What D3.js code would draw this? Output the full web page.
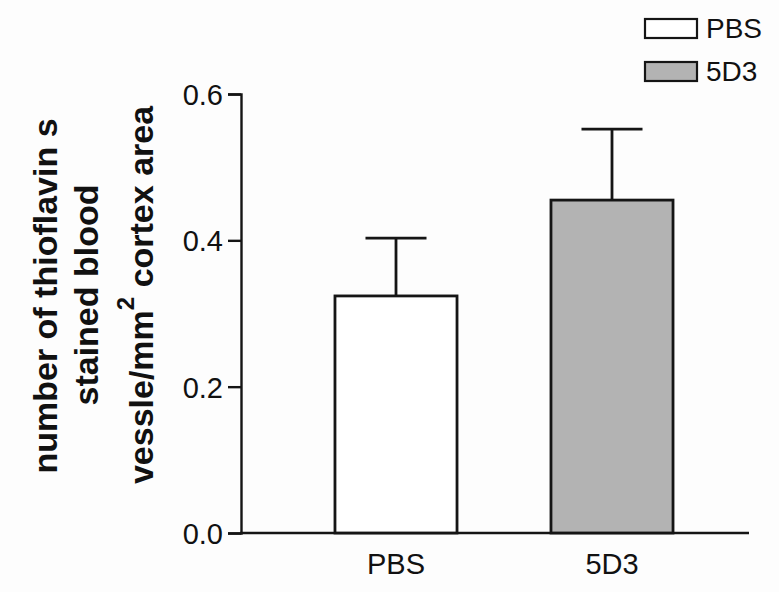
<!DOCTYPE html>
<html>
<head>
<meta charset="utf-8">
<script src="https://cdn.jsdelivr.net/npm/d3@7"></script>
<style>
  body { margin: 0; background: #fdfdfd; }
  text { font-family: "Liberation Sans", Arial, sans-serif; fill: #111; }
</style>
</head>
<body>
<div id="page"></div>
<script>
var groups = ['PBS', '5D3'];
var means = [0.324, 0.455];
var sems = [0.079, 0.097];
var fills = ['#ffffff', '#b3b3b3'];
var yTicks = [0.0, 0.2, 0.4, 0.6];

var width = 779,
    height = 592;

var svg = d3.select("#page").append("svg")
    .attr("width", width)
    .attr("height", height);

var x = d3.scaleBand()
    .domain(groups)
    .range([288, 720])
    .paddingInner(0.435)
    .paddingOuter(0.2175);

var y = d3.scaleLinear()
    .domain([0, 0.6])
    .range([533, 94]);

var ink = '#151515';

// y axis
var yAxis = svg.append("g")
    .attr("transform", "translate(241,0)")
    .call(d3.axisLeft(y).tickValues(yTicks).tickFormat(d3.format(".1f")).tickSize(13).tickPadding(5));
yAxis.select(".domain").attr("stroke", ink).attr("stroke-width", 2.4);
yAxis.selectAll(".tick line").attr("stroke", ink).attr("stroke-width", 2.4);
yAxis.selectAll(".tick text")
    .attr("fill", ink)
    .style("font-size", "29px")
    .attr("dy", "0.36em");

// x axis line
svg.append("line")
    .attr("x1", 240).attr("x2", 749)
    .attr("y1", y(0)).attr("y2", y(0))
    .attr("stroke", ink).attr("stroke-width", 2.4);

svg.selectAll(".xlabel")
    .data(groups)
  .enter().append("text")
    .attr("class", "xlabel")
    .attr("x", function(d) { return x(d) + x.bandwidth() / 2; })
    .attr("y", 574)
    .attr("text-anchor", "middle")
    .style("font-size", "29px")
    .text(function(d) { return d; });

// error bars
var err = svg.append("g");
groups.forEach(function(g, i) {
  var cx = x(g) + x.bandwidth() / 2,
      half = x.bandwidth() / 4;
  err.append("line")
      .attr("x1", cx).attr("x2", cx)
      .attr("y1", y(means[i])).attr("y2", y(means[i] + sems[i]))
      .attr("stroke", ink).attr("stroke-width", 2.8);
  err.append("line")
      .attr("x1", cx - half).attr("x2", cx + half)
      .attr("y1", y(means[i] + sems[i])).attr("y2", y(means[i] + sems[i]))
      .attr("stroke", ink).attr("stroke-width", 2.8);
});

// bars
svg.selectAll(".bar")
    .data(groups)
  .enter().append("rect")
    .attr("class", "bar")
    .attr("x", function(d) { return x(d); })
    .attr("y", function(d, i) { return y(means[i]); })
    .attr("width", x.bandwidth())
    .attr("height", function(d, i) { return y(0) - y(means[i]); })
    .attr("fill", function(d, i) { return fills[i]; })
    .attr("stroke", ink)
    .attr("stroke-width", 2.8);

// legend
var legend = svg.append("g");
var legendY = [19, 62];
groups.forEach(function(g, i) {
  legend.append("rect")
      .attr("x", 645).attr("y", legendY[i])
      .attr("width", 52).attr("height", 19)
      .attr("fill", fills[i])
      .attr("stroke", ink).attr("stroke-width", 2.2);
  legend.append("text")
      .attr("x", 706).attr("y", legendY[i] + 19)
      .style("font-size", "28px")
      .text(g);
});

// y label
var ylab = svg.append("g");
ylab.append("text")
    .attr("transform", "translate(57,296) rotate(-90)")
    .attr("text-anchor", "middle")
    .style("font-size", "34px").style("font-weight", "bold")
    .text("number of thioflavin s");
ylab.append("text")
    .attr("transform", "translate(98,295) rotate(-90)")
    .attr("text-anchor", "middle")
    .style("font-size", "34px").style("font-weight", "bold")
    .text("stained blood");
var l3 = ylab.append("text")
    .attr("transform", "translate(153,295) rotate(-90)")
    .attr("text-anchor", "middle")
    .style("font-size", "34px").style("font-weight", "bold");
l3.append("tspan").text("vessle/mm");
l3.append("tspan").attr("dy", -19).style("font-size", "24px").text("2");
l3.append("tspan").attr("dy", 19).text(" cortex area");
</script>
</body>
</html>
